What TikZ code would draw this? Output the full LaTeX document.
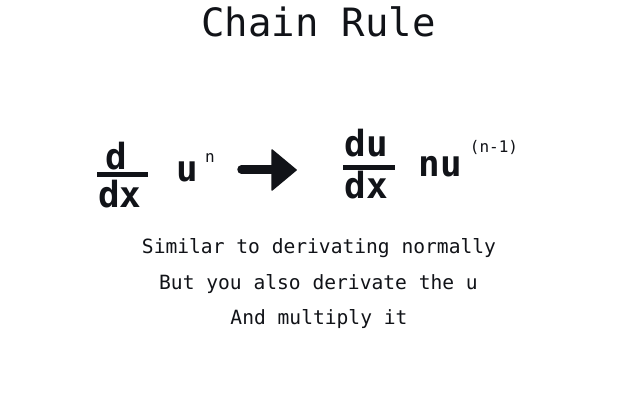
\documentclass[tikz,border=0pt]{standalone}
\usepackage{fontspec}
\newfontfamily\pix{DejaVu Sans Mono}
\newfontfamily\pixb{DejaVu Sans Mono Bold}
\definecolor{ink}{RGB}{17,19,24}
\begin{document}
\begin{tikzpicture}[x=1pt,y=-1pt,
  txt/.style={inner sep=0pt,anchor=base,text=ink},
  title/.style={txt,font=\pix\fontsize{39}{40}\selectfont},
  body/.style={txt,font=\pix\fontsize{19.6}{22}\selectfont},
  big/.style={txt,font=\pixb\fontsize{36}{38}\selectfont},
  sup/.style={txt,font=\pix\fontsize{16}{18}\selectfont},
  bar/.style={draw=ink,line width=4.6pt}]
\fill[white] (0,0) rectangle (638,403);
\useasboundingbox (0,0) rectangle (638,403);
% title
\node[title] (t) at (318.5,37) {Chain Rule};
% left expression
\node[big] (ld) at (116.5,170) {d};
\node[big] (ldx) at (120,208) {dx};
\coordinate (lb1) at (97,174.5);
\coordinate (lb2) at (148,174.5);
\draw[bar] (lb1) -- (lb2);
\node[big] (lu) at (187.5,182) {u};
\node[sup] (ln) at (210,163) {n};
% arrow
\coordinate (as) at (241.5,169.5);
\coordinate (ae) at (276,169.5);
\coordinate (ah1) at (272,150);
\coordinate (ah2) at (296,170);
\coordinate (ah3) at (272,190);
\draw[ink,line width=8.5pt,line cap=round] (as) -- (ae);
\fill[ink,draw=ink,line width=1.5pt,line join=round] (ah1) -- (ah2) -- (ah3) -- cycle;
% right expression
\node[big] (rdu) at (366.5,157) {du};
\node[big] (rdx) at (366.5,199) {dx};
\coordinate (rb1) at (343,167.5);
\coordinate (rb2) at (395,167.5);
\draw[bar] (rb1) -- (rb2);
\node[big] (rnu) at (440.5,177) {nu};
\node[sup] (rexp) at (494,153) {(n-1)};
% text lines
\node[body] (l1) at (319,254) {Similar to derivating normally};
\node[body] (l2) at (318.5,290) {But you also derivate the u};
\node[body] (l3) at (319,325) {And multiply it};
\end{tikzpicture}
\end{document}
